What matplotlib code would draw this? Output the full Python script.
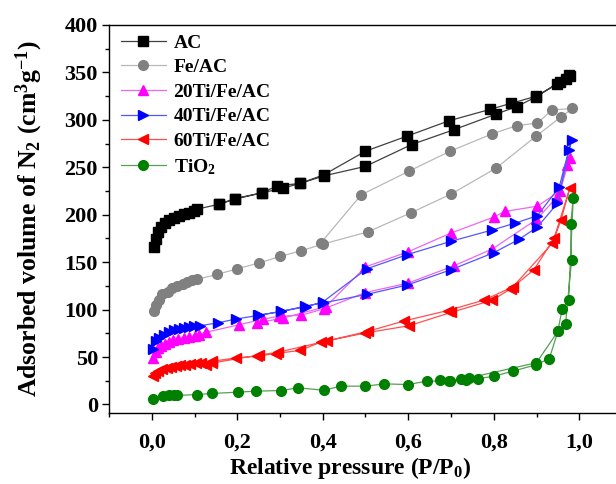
import matplotlib
matplotlib.use("Agg")
import matplotlib.pyplot as plt
from matplotlib.ticker import MultipleLocator, FixedLocator, FixedFormatter

plt.rcParams['font.family'] = ['Liberation Serif', 'DejaVu Serif']
plt.rcParams['font.weight'] = 'bold'
plt.rcParams['mathtext.fontset'] = 'custom'
plt.rcParams['mathtext.rm'] = 'Liberation Serif:bold'
plt.rcParams['mathtext.bf'] = 'Liberation Serif:bold'
plt.rcParams['mathtext.it'] = 'Liberation Serif:bold'

# ---- data (adsorption branch followed by desorption branch) ----
ac_x = [0.005, 0.009, 0.015, 0.021, 0.030, 0.040, 0.052, 0.064, 0.076, 0.087, 0.099, 0.107,
        0.157, 0.195, 0.257, 0.307, 0.347, 0.403, 0.50, 0.608, 0.706, 0.805, 0.854, 0.90,
        0.949, 0.968, 0.978,
        0.975, 0.955, 0.90, 0.841, 0.791, 0.695, 0.598, 0.50, 0.402, 0.347, 0.294, 0.257, 0.194, 0.157]
ac_y = [166, 174, 182, 187, 191, 194, 197, 199, 201, 202, 204, 206,
        211, 216.5, 223, 228, 233, 241, 251, 274, 289.5, 306, 314, 324.5,
        338, 343, 346,
        347, 340, 325, 317.5, 311, 299, 283, 267, 242, 233, 230.5, 223, 217, 211]

feac_x = [0.005, 0.009, 0.017, 0.025, 0.037, 0.048, 0.060, 0.072, 0.083, 0.095, 0.107,
          0.152, 0.20, 0.25, 0.30, 0.349, 0.40, 0.506, 0.606, 0.701, 0.805, 0.898, 0.957, 0.984,
          0.936, 0.902, 0.854, 0.795, 0.698, 0.602, 0.49, 0.395]
feac_y = [99, 105, 110.5, 116, 119, 123, 125, 127, 129, 131, 132,
          137, 143, 149, 156, 162, 169, 182, 202, 222, 249, 282.5, 303, 312,
          310.5, 296.5, 294, 285, 267, 246, 221, 170]

ti20_x = [0.004, 0.009, 0.015, 0.022, 0.030, 0.040, 0.050, 0.062, 0.075, 0.087, 0.100, 0.110,
          0.126, 0.204, 0.261, 0.298, 0.349, 0.402, 0.50, 0.60, 0.706, 0.797, 0.90, 0.949,
          0.972, 0.978,
          0.955, 0.902, 0.826, 0.80, 0.70, 0.60, 0.50, 0.407, 0.306, 0.247]
ti20_y = [49, 55, 59, 62, 64, 66, 68, 69.5, 70.5, 71.5, 72.5, 73.5,
          76, 84, 90, 93, 94, 100.7, 118, 128, 146, 164, 195, 219,
          252, 260,
          225, 209, 203.5, 197.5, 180.7, 161, 145, 103, 91, 86]

ti40_x = [0.002, 0.009, 0.017, 0.029, 0.040, 0.052, 0.064, 0.076, 0.087, 0.099, 0.113,
          0.154, 0.196, 0.251, 0.302, 0.358, 0.40, 0.503, 0.598, 0.70, 0.80, 0.859, 0.902,
          0.949, 0.976, 0.982,
          0.953, 0.902, 0.849, 0.797, 0.70, 0.598, 0.503, 0.40, 0.36, 0.302, 0.249]
ti40_y = [58, 66.7, 70, 73.7, 76, 78, 79.6, 80.7, 81.6, 82.5, 83,
          86, 90, 94, 98, 103.5, 107, 116, 126, 142, 160, 174, 187,
          212, 268, 279,
          229, 199, 191, 184, 172, 158, 143, 108, 103, 98, 94]

ti60_x = [0.002, 0.008, 0.015, 0.025, 0.035, 0.045, 0.056, 0.067, 0.078, 0.090, 0.103, 0.115,
          0.142, 0.196, 0.247, 0.29, 0.347, 0.395, 0.50, 0.602, 0.70, 0.797, 0.84, 0.894,
          0.941, 0.978,
          0.957, 0.937, 0.845, 0.777, 0.692, 0.59, 0.505, 0.41, 0.295, 0.25, 0.14, 0.126]
ti60_y = [30.5, 33, 35, 37, 38.5, 39.5, 40.5, 41.5, 42, 42.5, 43.2, 44,
          45.6, 49, 51, 53.7, 57, 65.6, 75.4, 83, 97, 110, 122, 142,
          175, 228,
          194, 170, 124, 110, 99, 88, 77, 67, 55, 52, 43.6, 42]

tio2_x = [0.002, 0.027, 0.040, 0.052, 0.060, 0.107, 0.142, 0.202, 0.243, 0.302, 0.343, 0.403,
          0.442, 0.50, 0.544, 0.60, 0.643, 0.696, 0.734, 0.762, 0.80, 0.844, 0.90, 0.93,
          0.95, 0.96, 0.975, 0.986,
          0.98, 0.982, 0.968, 0.95, 0.90, 0.742, 0.723, 0.698, 0.674]
tio2_y = [5.3, 8.8, 9.5, 9.5, 9.5, 10.5, 11.6, 13, 14, 14.7, 17.5, 15,
          19.3, 19.3, 21.7, 21, 24.6, 24.6, 25.6, 27, 29.8, 35, 42, 48.4,
          77, 101, 110.5, 218,
          190.5, 152, 85, 77, 44, 28, 27, 25, 25.6]

labels = ['AC', 'Fe/AC', '20Ti/Fe/AC', '40Ti/Fe/AC', '60Ti/Fe/AC', r'TiO$_2$']
marker_colors = ['#000000', '#808080', '#ff00ff', '#0000ff', '#ff0000', '#008000']
line_colors = ['#404040', '#b8b8b8', '#ee66ee', '#5555ff', '#ff5050', '#55a055']
markers = ['s', 'o', '^', '>', '<', 'o']
msizes = [6.5, 7, 7.5, 7.5, 7.5, 7]

xticks = [0.0, 0.2, 0.4, 0.6, 0.8, 1.0]
xtick_labels = ['0,0', '0,2', '0,4', '0,6', '0,8', '1,0']
yticks = [0, 50, 100, 150, 200, 250, 300, 350, 400]

series = [(ac_x, ac_y), (feac_x, feac_y), (ti20_x, ti20_y), (ti40_x, ti40_y),
          (ti60_x, ti60_y), (tio2_x, tio2_y)]

fig = plt.figure(figsize=(6.16, 4.84), dpi=100)
ax = fig.add_axes([109/616, (484-413)/484, 513/616, 388/484])

for (xs, ys), lab, mc, lc, mk, ms in zip(series, labels, marker_colors, line_colors, markers, msizes):
    ax.plot(xs, ys, color=lc, lw=0.9, marker=mk, markersize=ms,
            markerfacecolor=mc, markeredgecolor=mc, label=lab)

ax.set_xlim(-0.1, 1.1)
ax.set_ylim(-9, 400)
ax.xaxis.set_major_locator(FixedLocator(xticks))
ax.xaxis.set_major_formatter(FixedFormatter(xtick_labels))
ax.xaxis.set_minor_locator(MultipleLocator(0.1))
ax.yaxis.set_major_locator(FixedLocator(yticks))
ax.yaxis.set_minor_locator(MultipleLocator(25))
ax.tick_params(which='both', direction='out', top=False, right=False, width=1)
ax.tick_params(which='major', length=5, labelsize=16)
ax.tick_params(axis='x', which='major', pad=9)
ax.tick_params(axis='y', which='major', pad=3)
ax.tick_params(which='minor', length=3)
for lab in ax.get_xticklabels() + ax.get_yticklabels():
    lab.set_fontweight('bold')
for s in ax.spines.values():
    s.set_linewidth(1.0)

ax.set_xlabel(r'Relative pressure (P/P$_0$)', fontsize=17, fontweight='bold')
ax.xaxis.set_label_coords((350-109)/513, -0.108)
ax.set_ylabel(r'Adsorbed volume of N$_2$ (cm$^3$g$^{-1}$)', fontsize=18.5, fontweight='bold')
ax.yaxis.set_label_coords(-0.125, 0.5)

leg = ax.legend(loc='upper left', frameon=False, fontsize=14, handlelength=2.3,
                bbox_to_anchor=(-0.003, 1.012), labelspacing=0.36, handletextpad=0.4,
                borderaxespad=0.3)
for t in leg.get_texts():
    t.set_fontweight('bold')

fig.savefig('out.png', dpi=100)
